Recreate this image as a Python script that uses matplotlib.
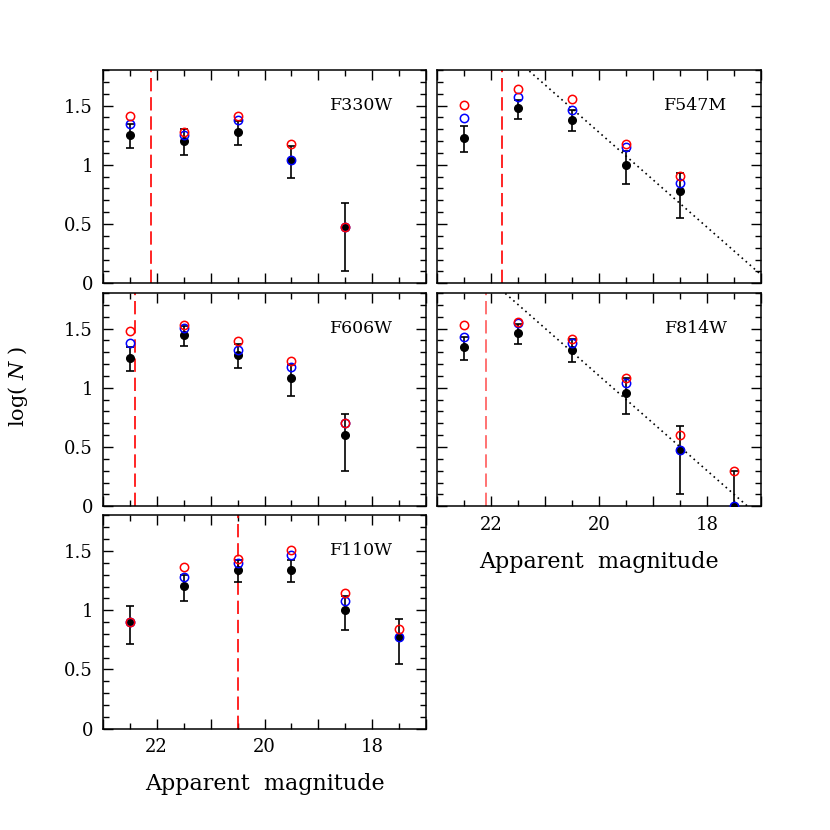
import matplotlib
matplotlib.use('Agg')
import matplotlib.pyplot as plt
from matplotlib.ticker import MultipleLocator, FuncFormatter
import numpy as np

plt.rcParams['font.family'] = ['DejaVu Serif']
plt.rcParams['mathtext.fontset'] = 'dejavuserif'

# Magnituden-Bins (Mitte)
mags = [22.5, 21.5, 20.5, 19.5, 18.5, 17.5]

# F330W
f330_black = [1.255, 1.204, 1.279, 1.041, 0.477]
f330_lo = [1.139, 1.079, 1.166, 0.885, 0.104]
f330_hi = [1.347, 1.301, 1.368, 1.156, 0.675]
f330_blue = [1.342, 1.255, 1.380, 1.041, 0.477]
f330_red = [1.415, 1.279, 1.415, 1.176, 0.477]

# F547M
f547_black = [1.230, 1.477, 1.380, 1.000, 0.778]
f547_lo = [1.110, 1.390, 1.281, 0.835, 0.550]
f547_hi = [1.325, 1.550, 1.461, 1.119, 0.927]
f547_blue = [1.398, 1.568, 1.462, 1.146, 0.845]
f547_red = [1.505, 1.643, 1.556, 1.176, 0.903]

# F606W
f606_black = [1.255, 1.447, 1.279, 1.079, 0.602]
f606_lo = [1.139, 1.356, 1.166, 0.931, 0.301]
f606_hi = [1.347, 1.522, 1.368, 1.189, 0.778]
f606_blue = [1.380, 1.505, 1.322, 1.176, 0.699]
f606_red = [1.477, 1.531, 1.398, 1.230, 0.699]

# F814W
f814_black = [1.342, 1.462, 1.322, 0.954, 0.477, 0.0]
f814_lo = [1.238, 1.373, 1.215, 0.778, 0.104, 0.0]
f814_hi = [1.426, 1.537, 1.408, 1.079, 0.675, 0.301]
f814_blue = [1.431, 1.544, 1.380, 1.041, 0.477, 0.0]
f814_red = [1.531, 1.556, 1.415, 1.079, 0.602, 0.301]

# F110W
f110_black = [0.903, 1.204, 1.342, 1.342, 1.000, 0.778]
f110_lo = [0.713, 1.079, 1.238, 1.238, 0.835, 0.550]
f110_hi = [1.035, 1.301, 1.426, 1.426, 1.119, 0.927]
f110_blue = [0.903, 1.279, 1.398, 1.462, 1.079, 0.778]
f110_red = [0.903, 1.362, 1.431, 1.505, 1.146, 0.845]

# Vollstaendigkeitsgrenze (rote gestrichelte Linie)
limits = {'F330W': 22.1, 'F547M': 21.8, 'F606W': 22.4, 'F814W': 22.1, 'F110W': 20.5}
# Steigung 0.4 und Nullpunkt fuer die gepunkteten Linien
slope = 0.4
zero_547 = 16.82
zero_814 = 17.25

fig = plt.figure(figsize=(8.3, 8.3), dpi=100)

W = 0.390
H = 0.257
xl, xr = 0.1237, 0.527
yt, ym, yb = 0.6587, 0.390, 0.122

panels = [
    ('F330W', [xl, yt, W, H], f330_black, f330_lo, f330_hi, f330_blue, f330_red, None, False, True),
    ('F547M', [xr, yt, W, H], f547_black, f547_lo, f547_hi, f547_blue, f547_red, zero_547, False, False),
    ('F606W', [xl, ym, W, H], f606_black, f606_lo, f606_hi, f606_blue, f606_red, None, False, True),
    ('F814W', [xr, ym, W, H], f814_black, f814_lo, f814_hi, f814_blue, f814_red, zero_814, True, False),
    ('F110W', [xl, yb, W, H], f110_black, f110_lo, f110_hi, f110_blue, f110_red, None, True, True),
]

for name, rect, blk, lo, hi, blu, red, zero, xlab, ylab in panels:
    ax = fig.add_axes(rect)
    n = len(blk)
    x = np.array(mags[:n])
    blk = np.array(blk)
    yerr = [blk - np.array(lo), np.array(hi) - blk]

    ax.errorbar(x, blk, yerr=yerr, fmt='o', color='black', ms=5.5,
                elinewidth=1.2, capsize=3, capthick=1.2, zorder=3)
    ax.plot(x, blu, 'o', mfc='none', mec='blue', ms=6, mew=1.1, zorder=4)
    ax.plot(x, red, 'o', mfc='none', mec='red', ms=6, mew=1.1, zorder=5)

    dash_col = '#ff5a5a' if name == 'F814W' else 'red'
    ax.axvline(limits[name], color=dash_col, lw=1.2, dashes=(8, 3.5), zorder=2)

    if zero is not None:
        xx = np.array([16.0, 24.0])
        ax.plot(xx, slope * (xx - zero), color='black', lw=1.2, ls=(0, (1, 2.2)), zorder=2)

    ax.text(17.62, 1.5, name, ha='right', va='center', fontsize=12.5)

    ax.set_xlim(23, 17)
    ax.set_ylim(0, 1.8)
    ax.xaxis.set_major_locator(MultipleLocator(1))
    ax.xaxis.set_minor_locator(MultipleLocator(0.5))
    ax.yaxis.set_major_locator(MultipleLocator(0.5))
    ax.yaxis.set_minor_locator(MultipleLocator(0.1))
    ax.tick_params(which='both', direction='in', top=True, right=True, width=1.0)
    ax.tick_params(which='major', length=7, labelsize=13, pad=7)
    ax.tick_params(which='minor', length=4)
    for s in ax.spines.values():
        s.set_linewidth(1.1)

    ax.xaxis.set_major_formatter(FuncFormatter(lambda v, p: '%d' % v if v % 2 == 0 else ''))
    ax.yaxis.set_major_formatter(FuncFormatter(lambda v, p: '%g' % v))
    if not xlab:
        ax.set_xticklabels([])
    else:
        ax.set_xlabel('Apparent  magnitude', fontsize=16, labelpad=12)
    if not ylab:
        ax.set_yticklabels([])

fig.text(0.022, 0.534, 'log( $N$ )', rotation=90, ha='center', va='center', fontsize=15)

plt.savefig('out.png', dpi=100)
plt.close()
